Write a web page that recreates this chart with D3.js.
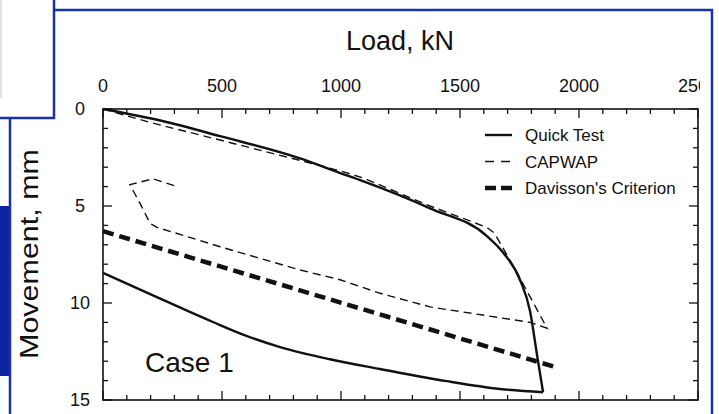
<!DOCTYPE html>
<html>
<head>
<meta charset="utf-8">
<script src="https://cdn.jsdelivr.net/npm/d3@7"></script>
<style>
  html, body { margin: 0; padding: 0; background: #fff; }
  svg { display: block; font-family: "Liberation Sans", Arial, sans-serif; }
</style>
</head>
<body>
<svg id="chart" width="719" height="414"></svg>
<script>
// data (load in kN, movement in mm)
const quickLoading = [[0,0],[250,0.62],[492,1.4],[828,2.55],[996,3.3],[1092,3.72],[1374,5.12],[1613,6.55],[1681,7.4],[1752,8.8],[1794,10.4],[1824,12.7],[1849,14.6]];
const quickUnloading = [[0,8.45],[252,9.84],[462,10.98],[597,11.67],[744,12.27],[954,12.9],[1164,13.4],[1445,14.03],[1668,14.43],[1849,14.6]];
const capwap = [[0,0],[200,0.7],[492,1.6],[828,2.65],[1000,3.2],[1092,3.55],[1374,5.0],[1613,6.1],[1645,6.4],[1740,8.45],[1866,11.3],
                [1794,11.0],[1374,10.2],[1164,9.5],[996,8.8],[828,8.3],[492,7.1],[227,6.1],[198,5.9],[155,4.85],[113,3.9],[210,3.6],[311,4.0]];
const davisson = [[0,6.3],[1900,13.3]];
const xMajor = [0, 500, 1000, 1500, 2000, 2500];
const yMajor = [0, 5, 10, 15];
const legendNames = ["Quick Test", "CAPWAP", "Davisson's Criterion"];

const svg = d3.select("#chart");
const blue = "#1733a6";

const x = d3.scaleLinear().domain([0, 2500]).range([103, 698]);
const y = d3.scaleLinear().domain([0, 15]).range([109, 400]);

// slide frame
svg.append("rect").attr("x", 0).attr("y", 206).attr("width", 10).attr("height", 170).attr("fill", "#0c24a0");
svg.append("line").attr("x1", 1).attr("y1", 0).attr("x2", 1).attr("y2", 98).attr("stroke", "#c8c8c8").attr("stroke-width", 1);
const frame = svg.append("g").attr("fill", "none").attr("stroke", blue).attr("stroke-width", 2.5);
frame.append("path").attr("d", "M0,118 H54 V0");
frame.append("path").attr("d", "M54,10 H712 V414");
frame.append("path").attr("d", "M10,118 V414");

// clip of the scanned figure
svg.append("defs").append("clipPath").attr("id", "figclip")
  .append("rect").attr("x", 12).attr("y", 12).attr("width", 688).attr("height", 402);

const g = svg.append("g").attr("clip-path", "url(#figclip)");

// axes box with inward ticks
const xMinor = d3.range(0, 2501, 100);
const yMinor = d3.range(0, 15.01, 1);

g.append("rect").attr("x", x(0)).attr("y", y(0)).attr("width", x(2500) - x(0)).attr("height", y(15) - y(0))
  .attr("fill", "none").attr("stroke", "#111").attr("stroke-width", 1.6);

const ticks = g.append("g").attr("stroke", "#111").attr("stroke-width", 1.3);
xMinor.forEach(v => {
  const len = v % 500 === 0 ? 9 : 5;
  ticks.append("line").attr("x1", x(v)).attr("x2", x(v)).attr("y1", y(0)).attr("y2", y(0) + len);
  ticks.append("line").attr("x1", x(v)).attr("x2", x(v)).attr("y1", y(15)).attr("y2", y(15) - len);
});
yMinor.forEach(v => {
  const len = v % 5 === 0 ? 9 : 5;
  ticks.append("line").attr("y1", y(v)).attr("y2", y(v)).attr("x1", x(0)).attr("x2", x(0) + len);
  ticks.append("line").attr("y1", y(v)).attr("y2", y(v)).attr("x1", x(2500)).attr("x2", x(2500) - len);
});

g.append("g").selectAll("text").data(xMajor).join("text")
  .attr("x", d => x(d)).attr("y", 92)
  .attr("text-anchor", "middle").attr("font-size", 18).attr("fill", "#111")
  .text(d => d);

g.append("g").selectAll("text").data(yMajor).join("text")
  .attr("x", 80).attr("y", d => y(d)).attr("dy", "0.36em")
  .attr("text-anchor", "middle").attr("font-size", 18).attr("fill", "#111")
  .text(d => d);

g.append("text").attr("x", 400).attr("y", 50).attr("text-anchor", "middle")
  .attr("font-size", 27).attr("fill", "#111").text("Load, kN");

g.append("text").attr("transform", "translate(38,254) rotate(-90)").attr("text-anchor", "middle")
  .attr("font-size", 26).attr("fill", "#111")
  .attr("textLength", 210).attr("lengthAdjust", "spacingAndGlyphs")
  .text("Movement, mm");

g.append("text").attr("x", 145).attr("y", 372).attr("font-size", 28).attr("fill", "#111").text("Case 1");

// curves
const smooth = d3.line().x(d => x(d[0])).y(d => y(d[1])).curve(d3.curveMonotoneX);
const straight = d3.line().x(d => x(d[0])).y(d => y(d[1]));

const curves = g.append("g").attr("fill", "none").attr("stroke", "#111");
curves.append("path").attr("d", straight(davisson)).attr("stroke-width", 4.5).attr("stroke-dasharray", "11,6");
curves.append("path").attr("d", straight(capwap)).attr("stroke-width", 1.4).attr("stroke-dasharray", "8,5");
curves.append("path").attr("d", smooth(quickLoading)).attr("stroke-width", 2.4);
curves.append("path").attr("d", smooth(quickUnloading)).attr("stroke-width", 2.4);

// legend
const styles = [
  { w: 2.4, dash: null },
  { w: 1.4, dash: "9,7" },
  { w: 4.5, dash: "11,5" }
];
const leg = g.append("g").selectAll("g").data(legendNames).join("g")
  .attr("transform", (d, i) => `translate(485,${135 + i * 26.5})`);
leg.append("line").attr("x1", 0).attr("x2", 27).attr("stroke", "#111")
  .attr("stroke-width", (d, i) => styles[i].w)
  .attr("stroke-dasharray", (d, i) => styles[i].dash);
leg.append("text").attr("x", 40).attr("dy", "0.36em").attr("font-size", 17).attr("fill", "#111").text(d => d);
</script>
</body>
</html>
